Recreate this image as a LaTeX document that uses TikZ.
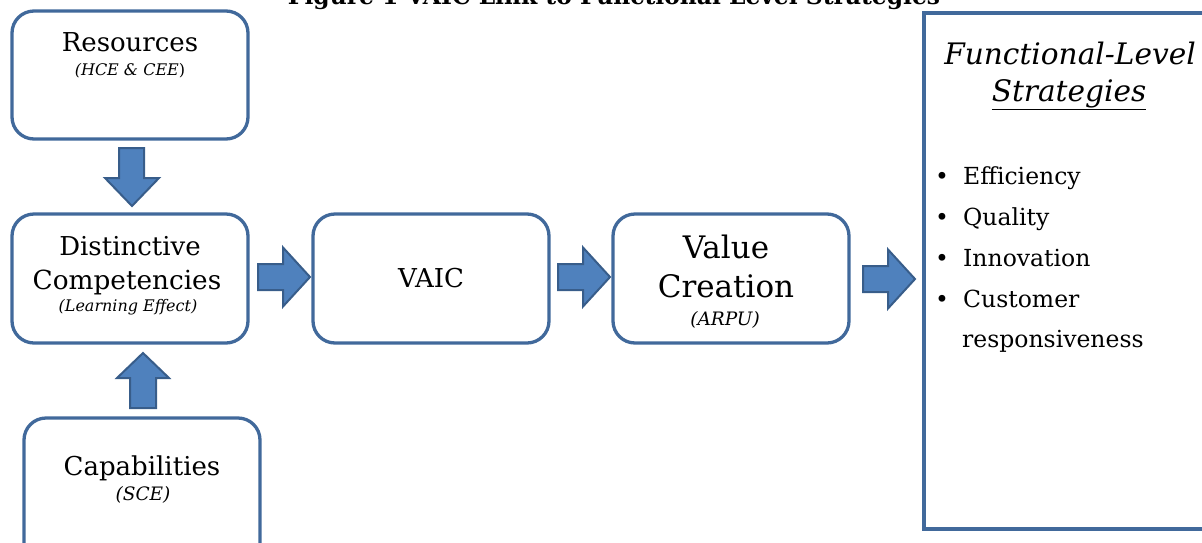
\documentclass[tikz,border=0pt]{standalone}
\usepackage{fontspec}
\setmainfont{DejaVu Serif}
\definecolor{boxline}{RGB}{65,105,155}
\definecolor{arrfill}{RGB}{79,129,189}
\definecolor{arrline}{RGB}{56,93,138}
\newcommand{\fsz}[1]{\fontsize{#1}{#1}\selectfont}
\tikzset{
  rbox/.style={draw=boxline, line width=3.3pt, rounded corners=22pt, fill=white},
  sbox/.style={draw=boxline, line width=3.3pt, fill=white},
  blockarrow/.style={fill=arrfill, draw=arrline, line width=2pt, line join=miter},
  lbl/.style={anchor=base, inner sep=0pt, text=black},
  rarr/.pic={\draw[blockarrow] (0,-13) -- (25,-13) -- (25,-29.5) -- (52,0) -- (25,29.5) -- (25,13) -- (0,13) -- cycle;}
}
\begin{document}
\begin{tikzpicture}[x=1pt,y=-1pt]
\useasboundingbox (0,0) rectangle (1202,542);
% title (partly cut off at the top, as in the reference)
\node[lbl] (title) at (614,4) {\fsz{23.4}\bfseries Figure 1 VAIC Link to Functional Level Strategies};
% boxes
\draw[rbox] (12,11) rectangle (248,139);
\draw[rbox] (12,214) rectangle (248,343);
\draw[rbox] (313,214) rectangle (549,343);
\draw[rbox] (613,214) rectangle (849,343);
\draw[rbox] (24,418) rectangle (260,570);
\draw[sbox] (924,13) rectangle (1220,529);
% texts
\node[lbl] (res) at (130,51) {\fsz{26}Resources};
\node[lbl] (resi) at (130,75) {\fsz{16}\itshape (HCE \& CEE\upshape)};
\node[lbl] (dist) at (130,255) {\fsz{26}Distinctive};
\node[lbl] (comp) at (127,289) {\fsz{26.3}Competencies};
\node[lbl] (learn) at (128,311) {\fsz{16}\itshape (Learning Effect)};
\node[lbl] (vaic) at (431,287) {\fsz{26}VAIC};
\node[lbl] (value) at (726,258) {\fsz{31}Value};
\node[lbl] (creat) at (726,297) {\fsz{31}Creation};
\node[lbl] (arpu) at (725,325) {\fsz{18.5}\itshape (ARPU)};
\node[lbl] (cap) at (142,475) {\fsz{26}Capabilities};
\node[lbl] (sce) at (143,500) {\fsz{18.5}\itshape (SCE)};
\node[lbl] (func) at (1070,64) {\fsz{29.6}\itshape Functional-Level};
\node[lbl] (strat) at (1069,101) {\fsz{29.6}\itshape \underline{Strategies}};
\foreach \t/\y/\n in {Efficiency/184/b1, Quality/225/b2, Innovation/266/b3, Customer/307/b4}{
  \node[lbl] (\n) at (942,\y) {\fsz{23.5}•};
  \node[lbl, anchor=base west] (\n t) at (963,\y) {\fsz{23.5}\t};
}
\node[lbl, anchor=base west] (b5t) at (962,347) {\fsz{23.5}responsiveness};
% block arrows
\draw[blockarrow] (119,148) -- (144,148) -- (144,178) -- (159,178) -- (132,206) -- (105,178) -- (119,178) -- cycle;
\draw[blockarrow] (130,408) -- (156,408) -- (156,378) -- (169,378) -- (143,353) -- (117,378) -- (130,378) -- cycle;
\pic at (258,277) {rarr};
\pic at (558,277) {rarr};
\pic at (863,279) {rarr};
\end{tikzpicture}
\end{document}
